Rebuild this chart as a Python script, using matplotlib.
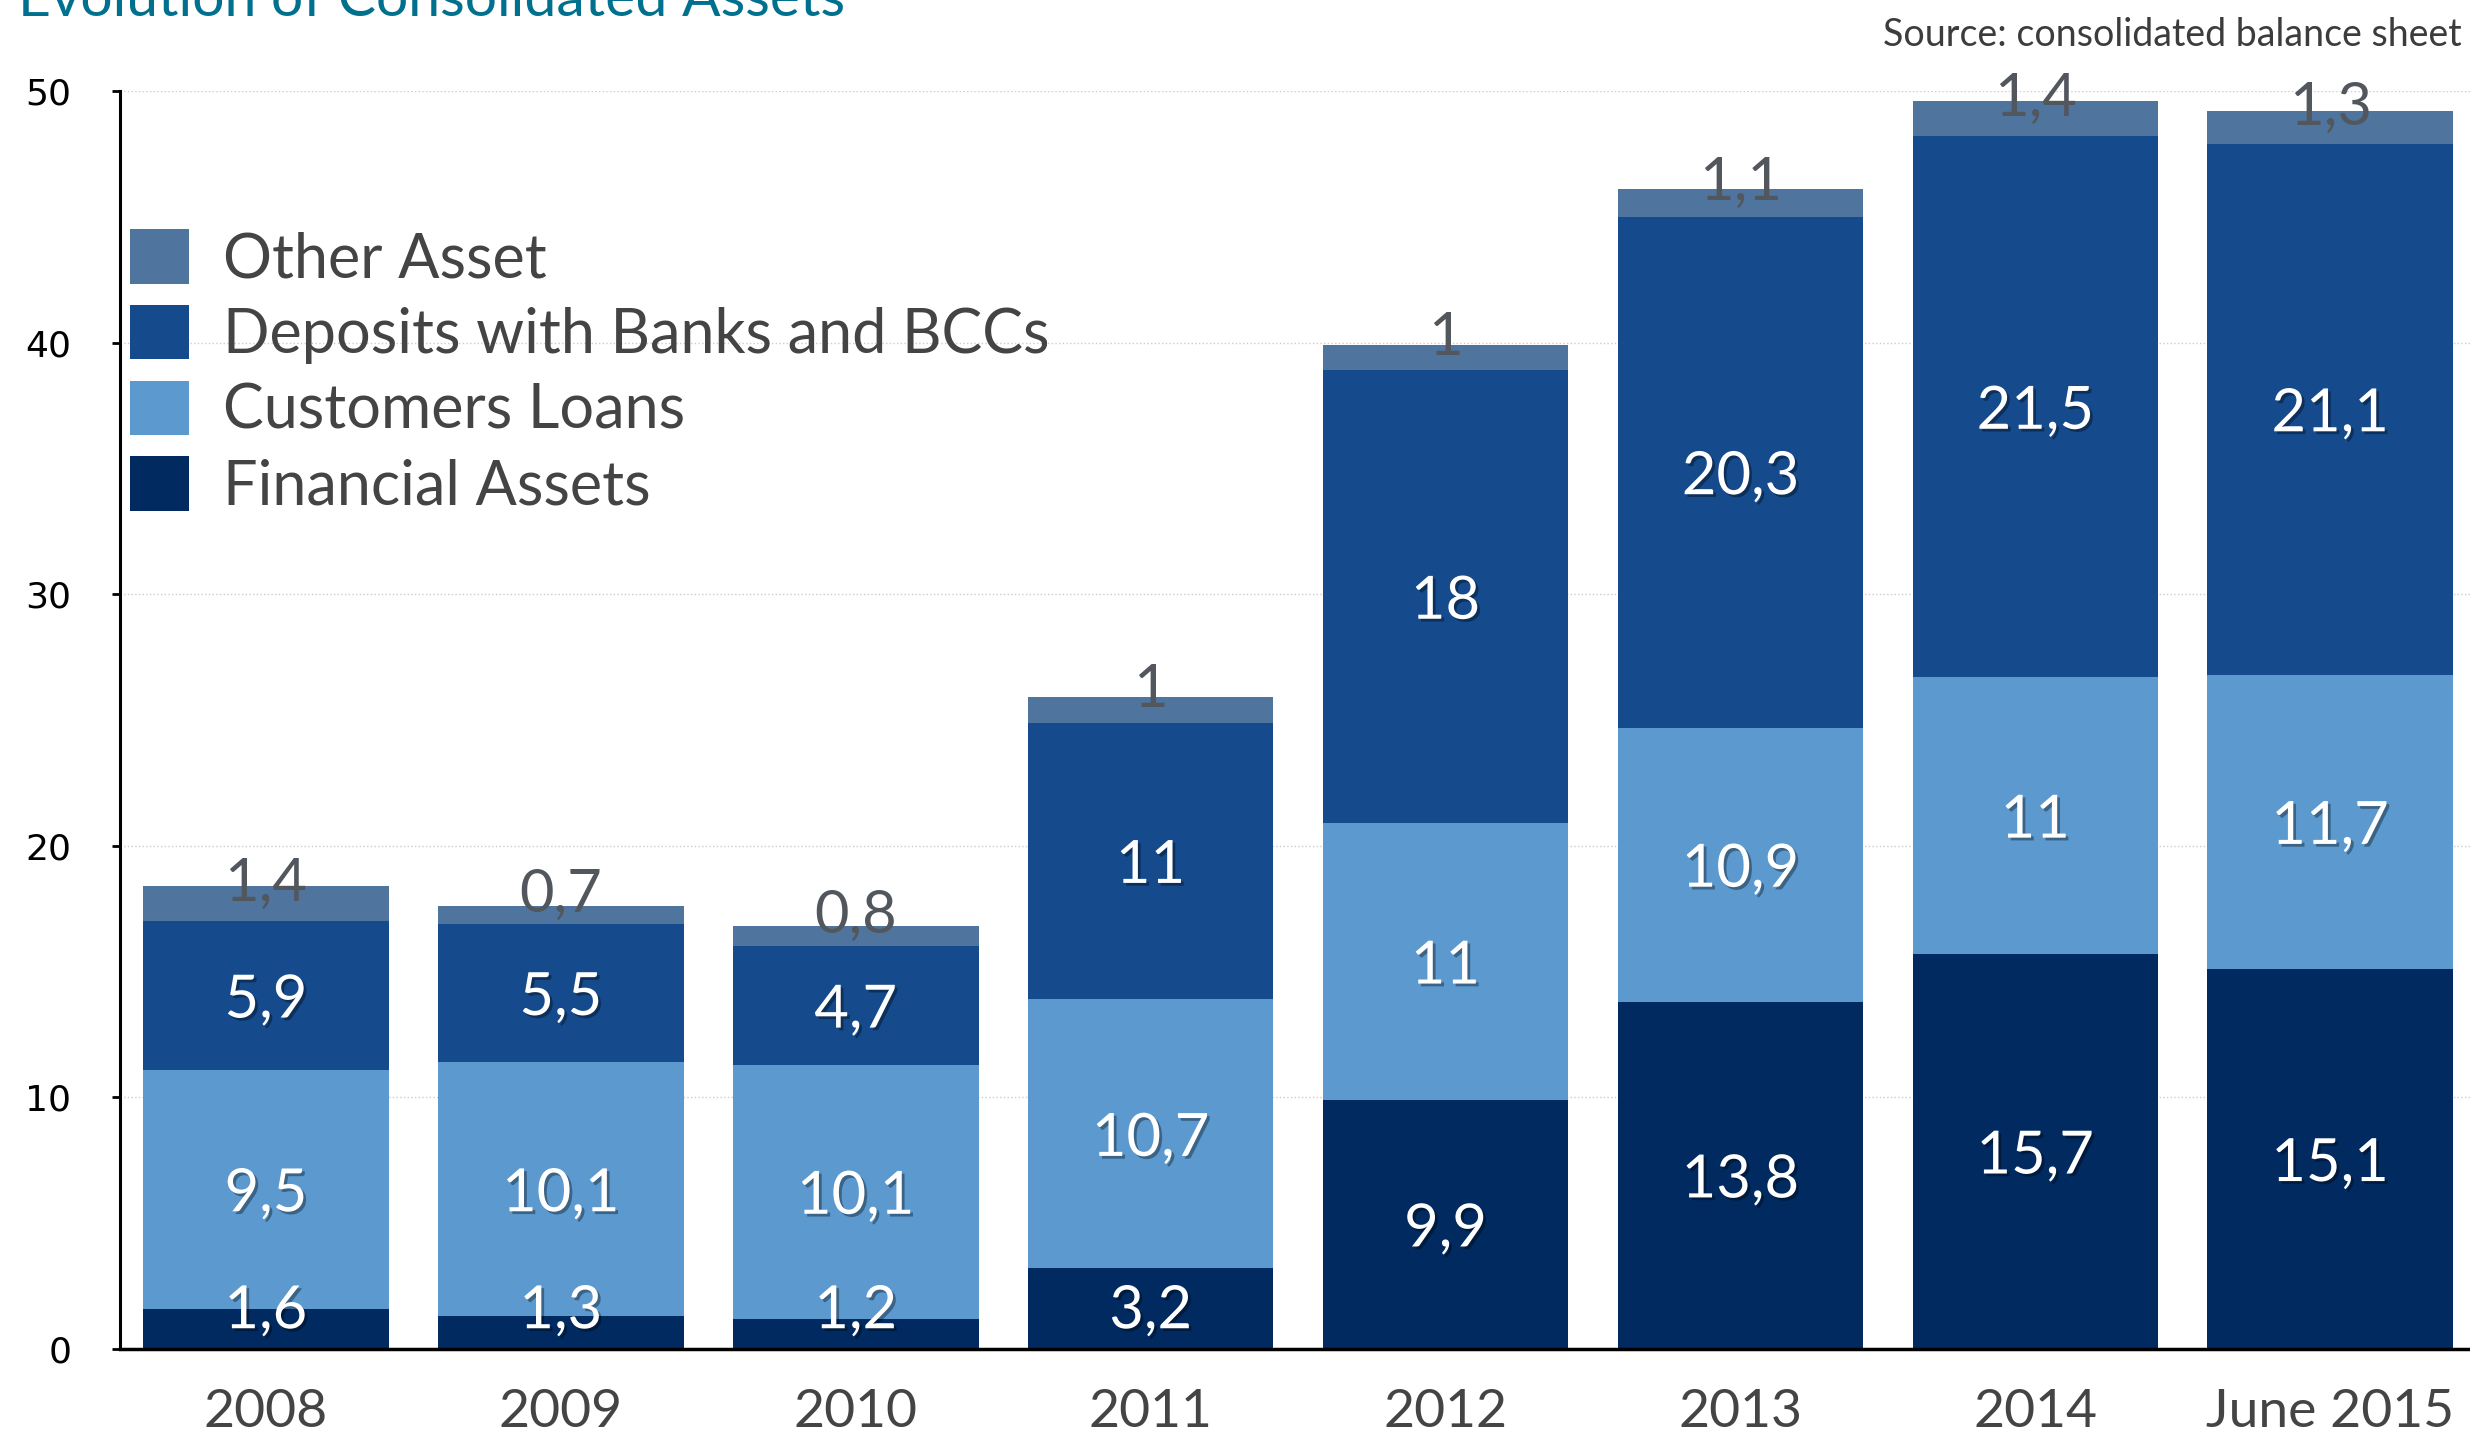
import matplotlib
matplotlib.use("Agg")
import matplotlib.pyplot as plt
import matplotlib.patheffects as pe
import numpy as np

# data (billions)
years = ["2008", "2009", "2010", "2011", "2012", "2013", "2014", "June 2015"]
financial_assets = [1.6, 1.3, 1.2, 3.2, 9.9, 13.8, 15.7, 15.1]
customers_loans = [9.5, 10.1, 10.1, 10.7, 11.0, 10.9, 11.0, 11.7]
deposits_banks = [5.9, 5.5, 4.7, 11.0, 18.0, 20.3, 21.5, 21.1]
other_asset = [1.4, 0.7, 0.8, 1.0, 1.0, 1.1, 1.4, 1.3]

series_names = ["Financial Assets", "Customers Loans",
                "Deposits with Banks and BCCs", "Other Asset"]
series_colors = ["#002a60", "#5b99cf", "#154b8c", "#4f759f"]

FONT = "Lato"

fig = plt.figure(figsize=(24.7, 14.33), dpi=100)
ax = fig.add_axes([120 / 2470, 1 - 1349 / 1433, 1 - 120 / 2470, (1349 - 91) / 1433])

x = np.arange(len(years))
width = 0.833
bottom = np.zeros(len(years))
handles = []
shadow = [pe.withSimplePatchShadow(offset=(2, -2), shadow_rgbFace="black", alpha=0.35)]

for name, vals, col in zip(series_names,
                           [financial_assets, customers_loans, deposits_banks, other_asset],
                           series_colors):
    vals = np.array(vals)
    bars = ax.bar(x, vals, width, bottom=bottom, color=col, label=name, zorder=2)
    handles.append(bars)
    for xi, b, v in zip(x, bottom, vals):
        txt = ("%g" % v).replace(".", ",")
        if name == "Other Asset":
            ax.text(xi, b + v / 2 + 0.8, txt, ha="center", va="center",
                    fontsize=43, family=FONT, color="#52575e", zorder=4)
        else:
            yy = b + v / 2 - 0.2
            if name == "Financial Assets":
                yy = max(yy, 1.5)
            ax.text(xi, yy, txt, ha="center", va="center", fontsize=43,
                    family=FONT, color="white", zorder=4, path_effects=shadow)
    bottom = bottom + vals

ax.set_xlim(-0.495, 7.474)
ax.set_ylim(0, 50)
ax.set_yticks([0, 10, 20, 30, 40, 50])
ax.set_xticks(x)
ax.set_xticklabels(years, fontsize=38.5, family=FONT, color="#444444")
ax.tick_params(axis="x", length=0, pad=29)
ax.tick_params(axis="y", length=6, width=2, pad=29, labelsize=26, labelcolor="black")

for s in ["top", "right"]:
    ax.spines[s].set_visible(False)
ax.spines["left"].set_linewidth(2.2)
ax.spines["bottom"].set_linewidth(2.5)
ax.yaxis.grid(True, linestyle=":", color="#cccccc", linewidth=1)
ax.set_axisbelow(True)

leg = ax.legend(handles[::-1], series_names[::-1], loc="upper left",
                bbox_to_anchor=(130 / 2470, 1 - 229 / 1433),
                bbox_transform=fig.transFigure, frameon=False,
                prop={"family": FONT, "size": 44}, handlelength=0.97,
                handleheight=1.0, handletextpad=0.55, labelspacing=0.27,
                borderpad=0, borderaxespad=0)
for t in leg.get_texts():
    t.set_color("#444444")

fig.text(18 / 2470, 1 - 16 / 1433, "Evolution of Consolidated Assets",
         fontsize=41, family=FONT, color="#00708f", va="baseline", ha="left")
fig.text(2462 / 2470, 1 - 46 / 1433, "Source: consolidated balance sheet",
         fontsize=27, family=FONT, color="#3c3c3c", va="baseline", ha="right")

fig.savefig("out.png", dpi=100)
